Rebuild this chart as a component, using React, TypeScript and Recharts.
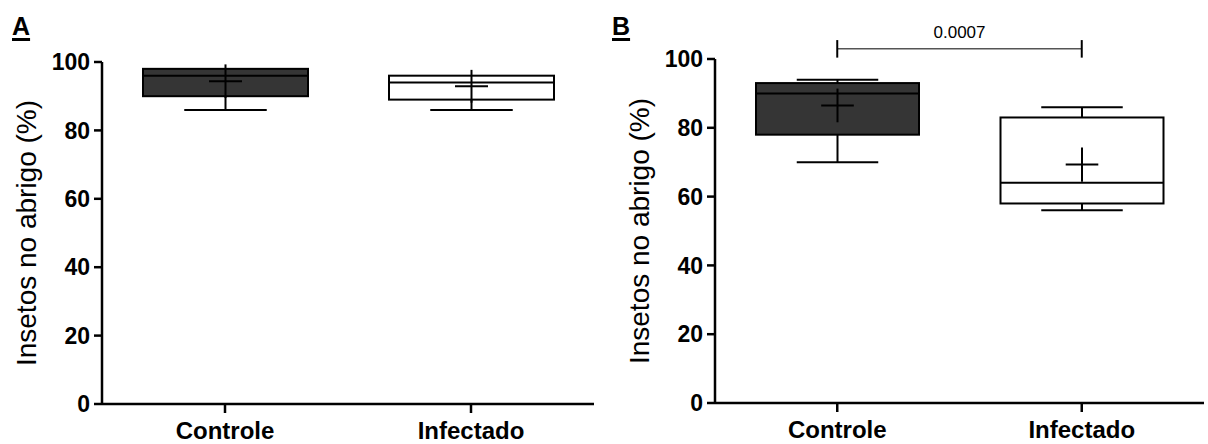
import { ComposedChart, Bar, XAxis, YAxis, ReferenceLine } from 'recharts'

const groups = ['Controle', 'Infectado']

// painel A
const minA = [86, 86]
const q1A = [90, 89]
const medianA = [96, 94]
const q3A = [98, 96]
const maxA = [98, 96]
const meanA = [94.4, 92.9]
const errA = [4.9, 4.8]

// painel B
const minB = [70, 56]
const q1B = [78, 58]
const medianB = [90, 64]
const q3B = [93, 83]
const maxB = [94, 86]
const meanB = [86.5, 69.3]
const errB = [4.9, 5.0]

const yTicks = [0, 20, 40, 60, 80, 100]
const pValue = '0.0007'
const yTitle = 'Insetos no abrigo (%)'

const FILLS = ['#353535', '#ffffff']
const FONT = '"Liberation Sans", Arial, Helvetica, sans-serif'

const buildRows = (
  min: number[],
  q1: number[],
  median: number[],
  q3: number[],
  max: number[],
  mean: number[],
  err: number[],
) =>
  groups.map((name, i) => ({
    name,
    min: min[i],
    q1: q1[i],
    median: median[i],
    q3: q3[i],
    max: max[i],
    mean: mean[i],
    err: err[i],
    box: [q1[i], q3[i]],
  }))

const rowsA = buildRows(minA, q1A, medianA, q3A, maxA, meanA, errA)
const rowsB = buildRows(minB, q1B, medianB, q3B, maxB, meanB, errB)

// caixa + bigodes + media (+), desenhados a partir da escala da barra
const BoxShape = (props: any) => {
  const { x, y, width, height, payload, index } = props
  const top = Math.min(y, y + height)
  const h = Math.abs(height)
  const { q1, q3, min, max, median, mean, err } = payload
  const py = (v: number) => top + ((q3 - v) / (q3 - q1)) * h
  const cx = x + width / 2
  const cap = width / 4
  const mh = width * 0.1
  const sw = 2
  return (
    <g stroke="#000" strokeWidth={sw}>
      {max > q3 && <line x1={cx} x2={cx} y1={py(q3)} y2={py(max)} />}
      {max > q3 && <line x1={cx - cap} x2={cx + cap} y1={py(max)} y2={py(max)} />}
      {min < q1 && <line x1={cx} x2={cx} y1={py(q1)} y2={py(min)} />}
      {min < q1 && <line x1={cx - cap} x2={cx + cap} y1={py(min)} y2={py(min)} />}
      <rect x={x} y={top} width={width} height={h} fill={FILLS[index % FILLS.length]} />
      <line x1={x} x2={x + width} y1={py(median)} y2={py(median)} />
      <line x1={cx - mh} x2={cx + mh} y1={py(mean)} y2={py(mean)} />
      <line x1={cx} x2={cx} y1={py(mean + err)} y2={py(mean - err)} />
    </g>
  )
}

const YTitle = ({ viewBox }: any) => {
  const cx = viewBox.x + 4
  const cy = viewBox.y + viewBox.height / 2
  return (
    <text
      x={cx}
      y={cy}
      transform={`rotate(-90 ${cx} ${cy})`}
      textAnchor="middle"
      dominantBaseline="central"
      fontSize={28}
      fontFamily={FONT}
      fill="#000"
    >
      {yTitle}
    </text>
  )
}

type PanelProps = {
  rows: typeof rowsA
  letter: string
  left: number
  width: number
  margin: { top: number; right: number; bottom: number; left: number }
  xHeight: number
  barSize: number
  bracket?: boolean
}

const Panel = ({ rows, letter, left, width, margin, xHeight, barSize, bracket }: PanelProps) => (
  <div style={{ position: 'absolute', left, top: 0, width, height: 444 }}>
    <div
      style={{
        position: 'absolute',
        left: 12,
        top: 14,
        fontFamily: FONT,
        fontWeight: 'bold',
        fontSize: 25,
        lineHeight: '25px',
        textDecoration: 'underline',
        textDecorationThickness: 3,
        textUnderlineOffset: 3,
        color: '#000',
      }}
    >
      {letter}
    </div>
    <ComposedChart width={width} height={444} data={rows} margin={margin} barSize={barSize}>
      <XAxis
        dataKey="name"
        height={xHeight}
        axisLine={{ stroke: '#000', strokeWidth: 2.5 }}
        tickLine={{ stroke: '#000', strokeWidth: 2.5 }}
        tickSize={9}
        tickMargin={9}
        tick={{ fontSize: 24, fontWeight: 'bold', fill: '#000', fontFamily: FONT }}
      />
      <YAxis
        type="number"
        domain={[0, 100]}
        ticks={yTicks}
        width={80}
        axisLine={{ stroke: '#000', strokeWidth: 2.5 }}
        tickLine={{ stroke: '#000', strokeWidth: 2.5 }}
        tickSize={8}
        tickMargin={4}
        tick={{ fontSize: 23, fontWeight: 'bold', fill: '#000', fontFamily: FONT }}
        label={{ content: YTitle }}
      />
      <Bar dataKey="box" shape={BoxShape} isAnimationActive={false} />
      {bracket && (
        <ReferenceLine
          segment={[
            { x: groups[0], y: 103 },
            { x: groups[1], y: 103 },
          ]}
          stroke="#555"
          strokeWidth={1.5}
          ifOverflow="visible"
          label={{
            value: pValue,
            position: 'top',
            offset: 11,
            fontSize: 17,
            fill: '#000',
            fontFamily: FONT,
          }}
        />
      )}
      {bracket &&
        groups.map((g) => (
          <ReferenceLine
            key={g}
            segment={[
              { x: g, y: 100.4 },
              { x: g, y: 105.5 },
            ]}
            stroke="#000"
            strokeWidth={2}
            ifOverflow="visible"
          />
        ))}
    </ComposedChart>
  </div>
)

export default function App() {
  return (
    <div style={{ position: 'absolute', left: 0, top: 0, width: 1208, height: 444, background: '#fff' }}>
      <Panel
        rows={rowsA}
        letter="A"
        left={0}
        width={610}
        margin={{ top: 62, right: 16, bottom: 0, left: 22 }}
        xHeight={40}
        barSize={165}
      />
      <Panel
        rows={rowsB}
        letter="B"
        left={600}
        width={608}
        margin={{ top: 59, right: 4, bottom: 0, left: 35 }}
        xHeight={41}
        barSize={163}
        bracket
      />
    </div>
  )
}
